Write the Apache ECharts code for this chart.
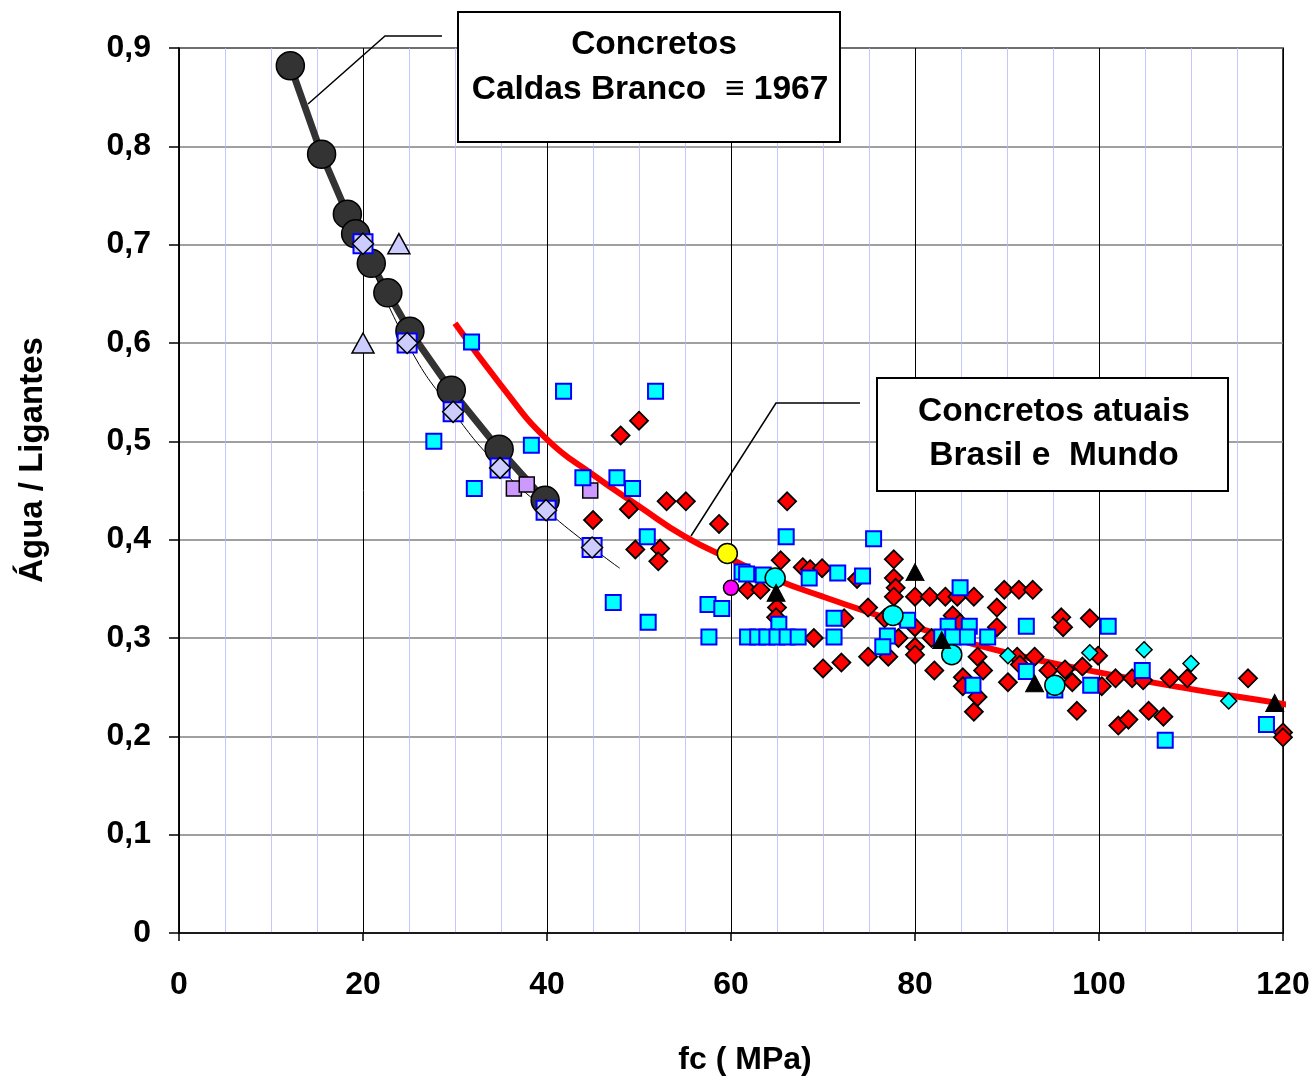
<!DOCTYPE html>
<html>
<head>
<meta charset="utf-8">
<script src="https://cdn.jsdelivr.net/npm/echarts@6/dist/echarts.min.js"></script>
<style>html,body{margin:0;padding:0;background:#fff}#c{width:1316px;height:1077px}</style>
</head>
<body>
<div id="c"></div>
<script>
// ---------- data ----------
var xTicks = [0, 20, 40, 60, 80, 100, 120];
var yTicks = [0, 0.1, 0.2, 0.3, 0.4, 0.5, 0.6, 0.7, 0.8, 0.9];

// Caldas Branco 1967 curve (big dark circles)
var caldasBranco = [[12.1,0.882],[15.5,0.792],[18.3,0.731],[19.2,0.711],[20.9,0.681],[22.7,0.651],[25.1,0.612],[29.6,0.552],[34.8,0.492],[39.8,0.44]];
// thin reference line
var thinLine = [[20,0.70],[24.8,0.60],[29.8,0.53],[34.9,0.473],[39.9,0.43],[44.9,0.392],[47.9,0.371]];
// lavender diamonds with blue-framed squares behind
var lavenderDiamonds = [[20,0.701],[24.8,0.600],[29.8,0.530],[34.9,0.473],[39.9,0.430],[44.9,0.392]];
var lavenderTriangles = [[23.9,0.701],[20,0.600]];
var purpleSquares = [[36.4,0.452],[37.8,0.456],[44.7,0.450]];
// current concretes fit curve (red)
var trendCurve = [[30,0.620],[35,0.557],[40,0.502],[45,0.466],[50,0.434],[55,0.403],[60,0.380],[65,0.359],[70,0.342],[75,0.326],[80,0.311],[90,0.285],[100,0.265],[110,0.248],[120,0.233],[121.8,0.229]];
var redDiamonds = [[50.0,0.521],[48.0,0.506],[48.9,0.431],[45.0,0.420],[49.6,0.390],[52.3,0.391],[52.1,0.378],[53.0,0.439],[55.1,0.439],[66.1,0.439],[58.7,0.416],[65.4,0.379],[61.8,0.349],[63.2,0.349],[65.0,0.331],[64.9,0.321],[67.8,0.372],[68.6,0.370],[69.9,0.371],[69.0,0.300],[70.0,0.269],[72.0,0.275],[73.7,0.360],[74.9,0.331],[72.3,0.320],[74.9,0.281],[77.1,0.281],[76.7,0.320],[77.7,0.380],[77.7,0.361],[77.9,0.351],[77.7,0.342],[78.2,0.300],[80.0,0.342],[81.6,0.342],[83.3,0.342],[84.6,0.342],[86.4,0.342],[80.0,0.311],[80.0,0.291],[80.0,0.283],[81.8,0.300],[82.1,0.267],[84.1,0.323],[84.9,0.315],[86.8,0.281],[87.4,0.267],[85.2,0.260],[85.2,0.251],[86.8,0.240],[86.4,0.225],[88.9,0.331],[88.9,0.311],[89.7,0.349],[91.3,0.349],[92.8,0.349],[90.1,0.255],[91.1,0.281],[91.4,0.273],[93.0,0.281],[94.5,0.267],[95.9,0.321],[96.1,0.311],[96.3,0.268],[99.0,0.320],[99.9,0.282],[98.2,0.271],[97.1,0.255],[100.3,0.251],[97.6,0.226],[101.8,0.259],[103.6,0.259],[104.8,0.257],[107.7,0.259],[109.6,0.259],[116.2,0.259],[102.1,0.211],[103.2,0.217],[105.4,0.226],[107.0,0.220],[120.0,0.204],[120.0,0.199]];
var cyanSquares = [[31.8,0.601],[41.8,0.551],[51.8,0.551],[27.7,0.500],[38.3,0.496],[32.1,0.452],[43.9,0.463],[47.6,0.463],[49.3,0.452],[50.9,0.403],[47.2,0.336],[51.0,0.316],[57.5,0.334],[59.0,0.330],[57.6,0.301],[61.2,0.367],[61.7,0.365],[63.5,0.364],[66.0,0.403],[65.2,0.314],[61.8,0.301],[62.9,0.301],[63.9,0.301],[65.0,0.301],[66.1,0.301],[67.3,0.301],[71.2,0.320],[71.2,0.301],[75.5,0.401],[68.5,0.361],[71.6,0.366],[74.3,0.363],[77.0,0.302],[76.5,0.291],[79.2,0.318],[84.9,0.351],[83.6,0.312],[85.9,0.312],[82.9,0.301],[84.1,0.301],[85.7,0.301],[87.9,0.301],[86.3,0.252],[92.1,0.312],[92.1,0.266],[95.2,0.247],[101.0,0.312],[99.1,0.252],[104.7,0.267],[107.2,0.196],[118.2,0.212]];
var cyanDiamonds = [[90.1,0.282],[99.0,0.285],[104.9,0.288],[110.0,0.274],[114.1,0.236]];
var blackTriangles = [[64.9,0.346],[80.0,0.367],[82.9,0.298],[93.0,0.254],[119.1,0.234]];
var magentaCircles = [[60.0,0.351]];
var yellowCircles = [[59.6,0.386]];
var cyanCircles = [[64.8,0.361],[77.6,0.323],[84.0,0.283],[95.2,0.252]];

// ---------- chart ----------
var FONT = '"Liberation Sans", Arial, sans-serif';
var chart = echarts.init(document.getElementById('c'), null, {renderer: 'canvas'});

function scatter(data, symbol, size, fill, stroke, bw) {
  return {
    type: 'scatter', data: data, symbol: symbol, symbolSize: size, silent: true, z: 4,
    itemStyle: {color: fill, borderColor: stroke, borderWidth: bw, opacity: 1},
    emphasis: {disabled: true}
  };
}

var option = {
  animation: false,
  backgroundColor: '#ffffff',
  grid: {left: 179, right: 33, top: 48, bottom: 144, show: true, borderColor: '#000', borderWidth: 1.5, backgroundColor: 'transparent'},
  xAxis: {
    type: 'value', min: 0, max: 120, interval: 20,
    axisLine: {show: true, onZero: false, lineStyle: {color: '#000', width: 1.5}},
    axisTick: {show: true, length: 8, lineStyle: {color: '#000', width: 1.5}},
    axisLabel: {margin: 36, color: '#000', fontFamily: FONT, fontWeight: 'bold', fontSize: 32,
      formatter: function (v) { return xTicks.indexOf(v) >= 0 ? String(v) : ''; }},
    splitLine: {show: true, lineStyle: {color: '#000', width: 1}},
    minorTick: {show: false, splitNumber: 4},
    minorSplitLine: {show: true, lineStyle: {color: '#b8b8ff', width: 1, opacity: 0.8}}
  },
  yAxis: {
    type: 'value', min: 0, max: 0.9, interval: 0.1,
    axisLine: {show: true, onZero: false, lineStyle: {color: '#000', width: 1.5}},
    axisTick: {show: true, length: 10, lineStyle: {color: '#000', width: 1.5}},
    axisLabel: {margin: 28, color: '#000', fontFamily: FONT, fontWeight: 'bold', fontSize: 32,
      formatter: function (v) {
        var r = Math.round(v * 10) / 10;
        return r === 0 ? '0' : r.toFixed(1).replace('.', ',');
      }},
    splitLine: {show: true, lineStyle: {color: '#808080', width: 1.5}}
  },
  series: [
    {type: 'line', data: trendCurve, smooth: true, showSymbol: false, clip: false, silent: true,
      lineStyle: {color: '#ff0000', width: 6}, z: 2},
    {type: 'line', data: caldasBranco, smooth: false, symbol: 'circle', symbolSize: 28, silent: true,
      lineStyle: {color: '#333333', width: 7},
      itemStyle: {color: '#333333', borderColor: '#000', borderWidth: 1.5}, z: 3},
    {type: 'line', data: thinLine, smooth: true, showSymbol: false, silent: true,
      lineStyle: {color: '#000', width: 1}, z: 3},
    scatter(lavenderDiamonds, 'rect', 19, '#ccccff', '#0000ff', 2),
    scatter(lavenderDiamonds, 'diamond', 21, '#ccccff', '#000', 1.5),
    scatter(lavenderTriangles, 'triangle', [22, 20], '#ccccff', '#000', 1.5),
    scatter(purpleSquares, 'rect', 15, '#cc99ff', '#000', 1.5),
    scatter(redDiamonds, 'diamond', 18, '#ff0000', '#000', 1.8),
    scatter(cyanSquares, 'rect', 15, '#00ffff', '#0000ff', 2),
    scatter(cyanDiamonds, 'diamond', 16, '#00ffff', '#000', 1.5),
    scatter(magentaCircles, 'circle', 15, '#ff00ff', '#000', 1.5),
    scatter(yellowCircles, 'circle', 20, '#ffff00', '#000', 1.5),
    scatter(cyanCircles, 'circle', 20, '#00ffff', '#000', 1.5),
    scatter(blackTriangles, 'triangle', [18, 17], '#000000', '#000', 1)
  ],
  graphic: [
    // callout leader lines
    {type: 'polyline', z: 100, silent: true, shape: {points: [[442,36],[385,36],[308,104]]},
      style: {stroke: '#000', lineWidth: 1.5, fill: null}},
    {type: 'polyline', z: 100, silent: true, shape: {points: [[860,403],[776,403],[691,536]]},
      style: {stroke: '#000', lineWidth: 1.5, fill: null}},
    // boxes
    {type: 'rect', z: 100, silent: true, shape: {x: 458, y: 12, width: 382, height: 130},
      style: {fill: '#fff', stroke: '#000', lineWidth: 2}},
    {type: 'text', z: 101, silent: true, x: 654, y: 45,
      style: {text: 'Concretos', fill: '#000', fontFamily: FONT, fontWeight: 'bold', fontSize: 33.5, align: 'center', verticalAlign: 'middle'}},
    {type: 'text', z: 101, silent: true, x: 650, y: 90,
      style: {text: 'Caldas Branco  \u2261 1967', fill: '#000', fontFamily: FONT, fontWeight: 'bold', fontSize: 33.5, align: 'center', verticalAlign: 'middle'}},
    {type: 'rect', z: 100, silent: true, shape: {x: 877, y: 378, width: 351, height: 113},
      style: {fill: '#fff', stroke: '#000', lineWidth: 2}},
    {type: 'text', z: 101, silent: true, x: 1054, y: 412,
      style: {text: 'Concretos atuais', fill: '#000', fontFamily: FONT, fontWeight: 'bold', fontSize: 33.5, align: 'center', verticalAlign: 'middle'}},
    {type: 'text', z: 101, silent: true, x: 1054, y: 456,
      style: {text: 'Brasil e  Mundo', fill: '#000', fontFamily: FONT, fontWeight: 'bold', fontSize: 33.5, align: 'center', verticalAlign: 'middle'}},
    // axis titles
    {type: 'text', z: 101, silent: true, x: 33, y: 460, rotation: Math.PI / 2,
      style: {text: '\u00c1gua / Ligantes', fill: '#000', fontFamily: FONT, fontWeight: 'bold', fontSize: 33, align: 'center', verticalAlign: 'middle'}},
    {type: 'text', z: 101, silent: true, x: 745, y: 1060,
      style: {text: 'fc ( MPa)', fill: '#000', fontFamily: FONT, fontWeight: 'bold', fontSize: 32, align: 'center', verticalAlign: 'middle'}}
  ]
};
chart.setOption(option);
</script>
</body>
</html>
